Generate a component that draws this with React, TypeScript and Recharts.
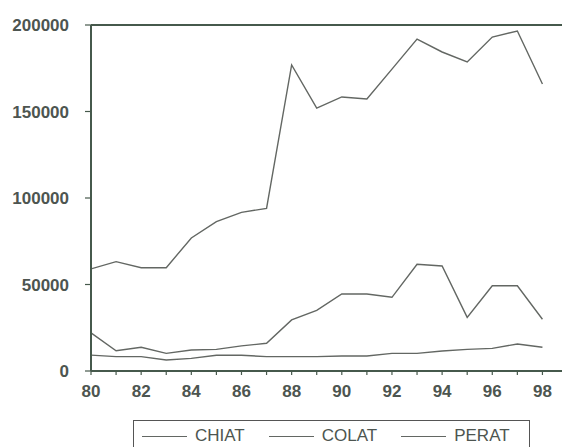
import React from 'react';
import { LineChart, Line, XAxis, YAxis, ReferenceLine, Legend } from 'recharts';

const years = [80, 81, 82, 83, 84, 85, 86, 87, 88, 89, 90, 91, 92, 93, 94, 95, 96, 97, 98];
const chiat = [59000, 63200, 59700, 59700, 76900, 86300, 91700, 94000, 176900, 152000, 158400, 157200, 174500, 191900, 184400, 178600, 193000, 196500, 165900];
const colat = [22100, 11700, 13700, 10200, 12100, 12500, 14500, 16000, 29500, 35000, 44500, 44500, 42600, 61700, 60700, 31000, 49300, 49300, 29900];
const perat = [9200, 8300, 8300, 6400, 7300, 9100, 9100, 8300, 8300, 8300, 8700, 8700, 10200, 10200, 11600, 12500, 13100, 15600, 13700];
const seriesNames = ['CHIAT', 'COLAT', 'PERAT'];
const yTicks = [0, 50000, 100000, 150000, 200000];

const data = years.map((y, i) => ({ year: y, CHIAT: chiat[i], COLAT: colat[i], PERAT: perat[i] }));

const AXIS = '#46594c';
const LINE = '#636763';
const TEXT = '#4d5550';
const FONT = '"Liberation Sans", Arial, sans-serif';

const LegendBox = () => (
  <div
    style={{
      width: 397,
      height: 32,
      boxSizing: 'border-box',
      border: `1.5px solid #555`,
      display: 'flex',
      alignItems: 'center',
      paddingLeft: 8,
      gap: 24,
      fontFamily: FONT,
      fontSize: 17,
      color: TEXT,
    }}
  >
    {seriesNames.map((n) => (
      <div key={n} style={{ display: 'flex', alignItems: 'center', gap: 8 }}>
        <div style={{ width: 45, height: 0, borderTop: `1.3px solid ${LINE}` }} />
        <span>{n}</span>
      </div>
    ))}
  </div>
);

export default function App() {
  return (
    <div style={{ position: 'absolute', left: 0, top: 0, width: 562, height: 447, overflow: 'hidden', background: '#fff' }}>
      <LineChart width={562} height={447} data={data} margin={{ top: 25, right: 0, bottom: 0, left: 0 }}>
        <XAxis
          dataKey="year"
          type="number"
          domain={[80, 98.78]}
          allowDataOverflow
          ticks={years}
          interval={0}
          tickFormatter={(v: number) => (v % 2 === 0 ? String(v) : '')}
          height={76}
          tickSize={4}
          tickMargin={10}
          stroke={AXIS}
          axisLine={{ stroke: AXIS, strokeWidth: 2 }}
          tickLine={{ stroke: AXIS, strokeWidth: 1.2 }}
          tick={{ fill: TEXT, fontSize: 17, fontWeight: 'bold', fontFamily: FONT }}
        />
        <YAxis
          type="number"
          domain={[0, 200000]}
          ticks={yTicks}
          interval={0}
          width={91}
          tickSize={6}
          tickMargin={16}
          stroke={AXIS}
          axisLine={{ stroke: AXIS, strokeWidth: 2 }}
          tickLine={{ stroke: AXIS, strokeWidth: 1.2 }}
          tick={{ fill: TEXT, fontSize: 17, fontWeight: 'bold', fontFamily: FONT }}
        />
        <ReferenceLine y={200000} stroke={AXIS} strokeWidth={2} ifOverflow="visible" />
        {seriesNames.map((n) => (
          <Line key={n} type="linear" dataKey={n} stroke={LINE} strokeWidth={1.4} dot={false} isAnimationActive={false} />
        ))}
        <Legend
          layout="horizontal"
          verticalAlign="middle"
          align="center"
          wrapperStyle={{ left: 133, top: 420, width: 397, height: 32 }}
          content={() => <LegendBox />}
        />
      </LineChart>
    </div>
  );
}
